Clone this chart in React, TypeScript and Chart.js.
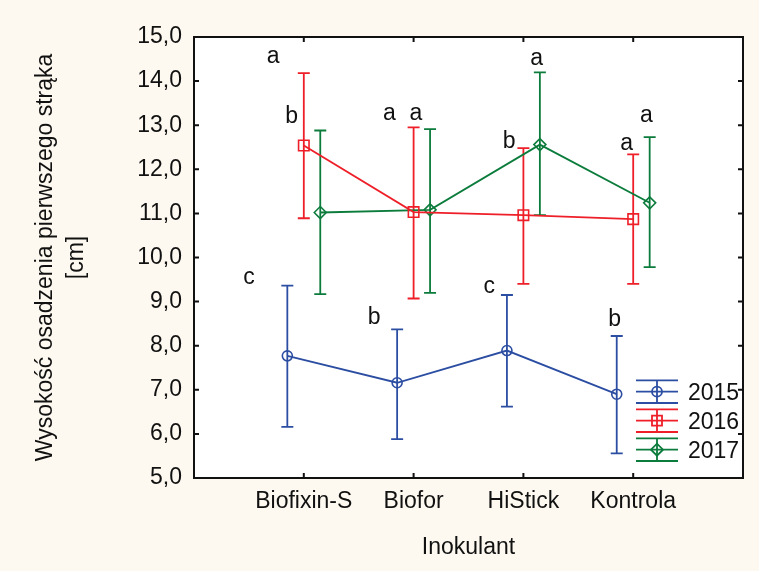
import React, { useEffect, useRef } from 'react';
import { Chart, registerables } from 'chart.js';

Chart.register(...registerables);

// Inoculant treatments on the x axis
const categories = ['Biofixin-S', 'Biofor', 'HiStick', 'Kontrola'];
const years = ['2015', '2016', '2017'];

// Mean height of the first pod [cm] with the ends of the error bars
const mean2015 = [7.77, 7.16, 7.89, 6.9];
const low2015 = [6.16, 5.88, 6.62, 5.56];
const high2015 = [9.36, 8.37, 9.15, 8.22];

const mean2016 = [12.54, 11.03, 10.96, 10.87];
const low2016 = [10.89, 9.07, 9.4, 9.4];
const high2016 = [14.18, 12.95, 12.48, 12.34];

const mean2017 = [11.02, 11.08, 12.56, 11.24];
const low2017 = [9.17, 9.2, 10.96, 9.78];
const high2017 = [12.88, 12.91, 14.2, 12.73];

// Homogeneous-group letters, anchored in data units (x in category units, y = baseline value)
const groupLetters = ['c', 'b', 'c', 'b', 'a', 'b', 'a', 'a', 'b', 'a', 'a', 'a'];
const letterX = [0.5, 1.64, 2.69, 3.83, 0.72, 0.89, 1.78, 2.02, 2.87, 3.12, 3.94, 4.12];
const letterY = [9.39, 8.49, 9.2, 8.45, 14.4, 13.04, 13.12, 13.12, 12.48, 14.37, 12.44, 13.08];

const Y_MIN = 5;
const Y_MAX = 15;

const FONT = '"Liberation Sans", Arial, Helvetica, sans-serif';
const TEXT_SIZE = 23;
const BLUE = '#2c4ea2';
const RED = '#ee1f28';
const GREEN = '#0c7c3c';
const PAGE_BG = '#fdf9f0';

type MarkerStyle = 'circle' | 'rect' | 'rectRot';

const series = [
  { label: years[0], color: BLUE, mean: mean2015, low: low2015, high: high2015, style: 'circle' as MarkerStyle, radius: 5, shift: -0.15 },
  { label: years[1], color: RED, mean: mean2016, low: low2016, high: high2016, style: 'rect' as MarkerStyle, radius: 7.4, shift: 0 },
  { label: years[2], color: GREEN, mean: mean2017, low: low2017, high: high2017, style: 'rectRot' as MarkerStyle, radius: 6, shift: 0.15 },
];

function strokeMarker(ctx: CanvasRenderingContext2D, style: MarkerStyle, x: number, y: number) {
  ctx.beginPath();
  if (style === 'circle') {
    ctx.arc(x, y, 5, 0, Math.PI * 2);
  } else if (style === 'rect') {
    ctx.rect(x - 5, y - 5, 10, 10);
  } else {
    ctx.moveTo(x - 6, y);
    ctx.lineTo(x, y - 6);
    ctx.lineTo(x + 6, y);
    ctx.lineTo(x, y + 6);
    ctx.closePath();
  }
  ctx.stroke();
}

const decorPlugin = {
  id: 'decor',
  beforeDraw(chart: any) {
    const { ctx, chartArea: a } = chart;
    ctx.save();
    ctx.fillStyle = PAGE_BG;
    ctx.fillRect(0, 0, chart.width, chart.height);
    ctx.fillStyle = '#ffffff';
    ctx.fillRect(a.left, a.top, a.right - a.left, a.bottom - a.top);
    ctx.restore();
  },
  beforeDatasetsDraw(chart: any) {
    const { ctx } = chart;
    const xs = chart.scales.x;
    const ys = chart.scales.y;
    ctx.save();
    ctx.lineWidth = 1.8;
    series.forEach((s) => {
      ctx.strokeStyle = s.color;
      s.mean.forEach((_, i) => {
        const px = xs.getPixelForValue(i + 1 + s.shift);
        const lo = ys.getPixelForValue(s.low[i]);
        const hi = ys.getPixelForValue(s.high[i]);
        ctx.beginPath();
        ctx.moveTo(px, lo);
        ctx.lineTo(px, hi);
        ctx.moveTo(px - 6, lo);
        ctx.lineTo(px + 6, lo);
        ctx.moveTo(px - 6, hi);
        ctx.lineTo(px + 6, hi);
        ctx.stroke();
      });
    });
    ctx.restore();
  },
  afterDraw(chart: any) {
    const { ctx, chartArea: a } = chart;
    const xs = chart.scales.x;
    const ys = chart.scales.y;
    ctx.save();

    // frame with inward ticks
    ctx.strokeStyle = '#111111';
    ctx.lineWidth = 2;
    ctx.strokeRect(a.left, a.top, a.right - a.left, a.bottom - a.top);
    ctx.beginPath();
    for (let v = Y_MIN; v <= Y_MAX; v++) {
      const py = ys.getPixelForValue(v);
      ctx.moveTo(a.left, py);
      ctx.lineTo(a.left + 5, py);
      ctx.moveTo(a.right, py);
      ctx.lineTo(a.right - 5, py);
    }
    categories.forEach((_, i) => {
      const px = xs.getPixelForValue(i + 1);
      ctx.moveTo(px, a.top);
      ctx.lineTo(px, a.top + 5);
      ctx.moveTo(px, a.bottom);
      ctx.lineTo(px, a.bottom - 5);
    });
    ctx.stroke();

    // group letters
    ctx.fillStyle = '#111111';
    ctx.font = `${TEXT_SIZE}px ${FONT}`;
    ctx.textAlign = 'center';
    ctx.textBaseline = 'alphabetic';
    groupLetters.forEach((t, i) => {
      ctx.fillText(t, xs.getPixelForValue(letterX[i]), ys.getPixelForValue(letterY[i]));
    });

    // legend
    const x0 = a.right - 107;
    const x1 = x0 + 42;
    const xm = (x0 + x1) / 2;
    series.forEach((s, i) => {
      const cy = a.bottom - 86.3 + i * 29;
      ctx.strokeStyle = s.color;
      ctx.lineWidth = 1.8;
      ctx.beginPath();
      ctx.moveTo(x0, cy - 11.3);
      ctx.lineTo(x1, cy - 11.3);
      ctx.moveTo(x0, cy);
      ctx.lineTo(x1, cy);
      ctx.moveTo(x0, cy + 11.3);
      ctx.lineTo(x1, cy + 11.3);
      ctx.moveTo(xm, cy - 11.3);
      ctx.lineTo(xm, cy + 11.3);
      ctx.stroke();
      strokeMarker(ctx, s.style, xm, cy);
      ctx.fillStyle = '#111111';
      ctx.textAlign = 'left';
      ctx.fillText(s.label, a.right - 55, cy + 8.3);
    });
    ctx.restore();
  },
};

export default function App() {
  const canvasRef = useRef<HTMLCanvasElement | null>(null);

  useEffect(() => {
    document.body.style.margin = '0';
    document.body.style.background = PAGE_BG;
    const canvas = canvasRef.current;
    if (!canvas) return;

    const chart = new Chart(canvas, {
      type: 'line',
      data: {
        datasets: series.map((s) => ({
          label: s.label,
          data: s.mean.map((m, i) => ({ x: i + 1 + s.shift, y: m })),
          borderColor: s.color,
          borderWidth: 1.8,
          pointStyle: s.style,
          pointRadius: s.radius,
          pointBorderWidth: 1.6,
          pointBorderColor: s.color,
          pointBackgroundColor: 'rgba(0,0,0,0)',
          fill: false,
          tension: 0,
        })),
      },
      options: {
        responsive: false,
        animation: false,
        devicePixelRatio: 1,
        layout: { padding: { top: 37, right: 16, left: 0, bottom: 0 } },
        plugins: {
          legend: { display: false },
          tooltip: { enabled: false },
        },
        scales: {
          x: {
            type: 'linear',
            min: 0,
            max: 5,
            grid: { display: false, drawTicks: false },
            border: { display: false },
            ticks: {
              stepSize: 1,
              autoSkip: false,
              maxRotation: 0,
              padding: 10,
              color: '#111111',
              font: { family: FONT, size: TEXT_SIZE },
              callback: (v: any) => categories[Number(v) - 1] ?? '',
            },
            title: {
              display: true,
              text: 'Inokulant',
              color: '#111111',
              font: { family: FONT, size: TEXT_SIZE },
              padding: { top: 0, bottom: 10 },
            },
            afterFit: (scale: any) => {
              scale.height = 93;
            },
          },
          y: {
            min: Y_MIN,
            max: Y_MAX,
            grid: { display: false, drawTicks: false },
            border: { display: false },
            ticks: {
              stepSize: 1,
              padding: 12,
              color: '#111111',
              font: { family: FONT, size: TEXT_SIZE },
              callback: (v: any) => Number(v).toFixed(1).replace('.', ','),
            },
            title: {
              display: true,
              text: ['Wysokość osadzenia pierwszego strąka', '[cm]'],
              color: '#111111',
              font: { family: FONT, size: TEXT_SIZE, lineHeight: 1.35 },
              padding: { top: 30, bottom: 0 },
            },
            afterFit: (scale: any) => {
              scale.width = 194;
            },
          },
        },
      },
      plugins: [decorPlugin],
    });

    return () => chart.destroy();
  }, []);

  return (
    <div style={{ width: 759, height: 571, background: PAGE_BG }}>
      <canvas ref={canvasRef} width={759} height={571} style={{ display: 'block' }} />
    </div>
  );
}
